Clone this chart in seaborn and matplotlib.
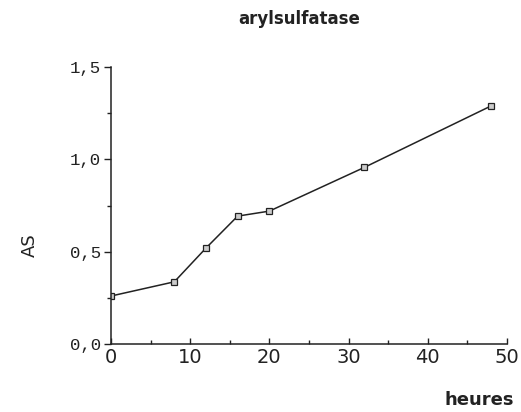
import matplotlib
matplotlib.use("Agg")
import matplotlib.pyplot as plt
import seaborn as sns
import pandas as pd
from matplotlib.ticker import MultipleLocator

heures = [0, 8, 12, 16, 20, 32, 48]
activite = [0.26, 0.337, 0.52, 0.693, 0.72, 0.957, 1.29]
y_ticks = [0.0, 0.5, 1.0, 1.5]
y_labels = ["0,0", "0,5", "1,0", "1,5"]
x_ticks = [0, 10, 20, 30, 40, 50]

sns.set_theme(style="ticks")
plt.rcParams['font.family'] = ['DejaVu Sans']

df = pd.DataFrame({"heures": heures, "AS": activite})

fig = plt.figure(figsize=(5.21, 4.12), dpi=100)
ax = fig.add_axes([0.213, 0.165, 0.76, 0.672])
sns.lineplot(data=df, x="heures", y="AS", ax=ax, color="#222222", linewidth=1.1,
             marker="s", markersize=4.2, markerfacecolor="#cccccc",
             markeredgecolor="#222222", markeredgewidth=0.9)

ax.set_xlim(0, 50)
ax.set_ylim(0, 1.5)
ax.set_xticks(x_ticks)
ax.set_xticklabels([str(v) for v in x_ticks], fontsize=14, color="#222222")
ax.xaxis.set_minor_locator(MultipleLocator(5))
ax.set_yticks(y_ticks)
ax.set_yticklabels(y_labels, fontsize=12.5, family="Liberation Mono", color="#222222")
ax.yaxis.set_minor_locator(MultipleLocator(0.25))
ax.tick_params(axis="x", which="both", direction="in", length=4, width=1, pad=3, colors="#222222")
ax.tick_params(axis="y", which="major", direction="out", length=5, width=1, pad=2, colors="#222222")
ax.tick_params(axis="y", which="minor", direction="out", length=3, width=1, colors="#222222")
ax.tick_params(axis="x", which="minor", length=3)

for s in ["top", "right"]:
    ax.spines[s].set_visible(False)
for s in ["left", "bottom"]:
    ax.spines[s].set_color("#222222")
    ax.spines[s].set_linewidth(1.1)

ax.set_xlabel("")
ax.set_ylabel("")
fig.text(0.058, 0.405, "AS", rotation=90, fontsize=13, ha="center", va="center", color="#222222")
fig.text(0.92, 0.03, "heures", fontsize=13, fontweight="bold", ha="center", va="center", color="#222222")
fig.text(0.575, 0.955, "arylsulfatase", fontsize=12, fontweight="bold", ha="center", va="center", color="#222222")

fig.savefig("out.png", dpi=100, facecolor="white")
